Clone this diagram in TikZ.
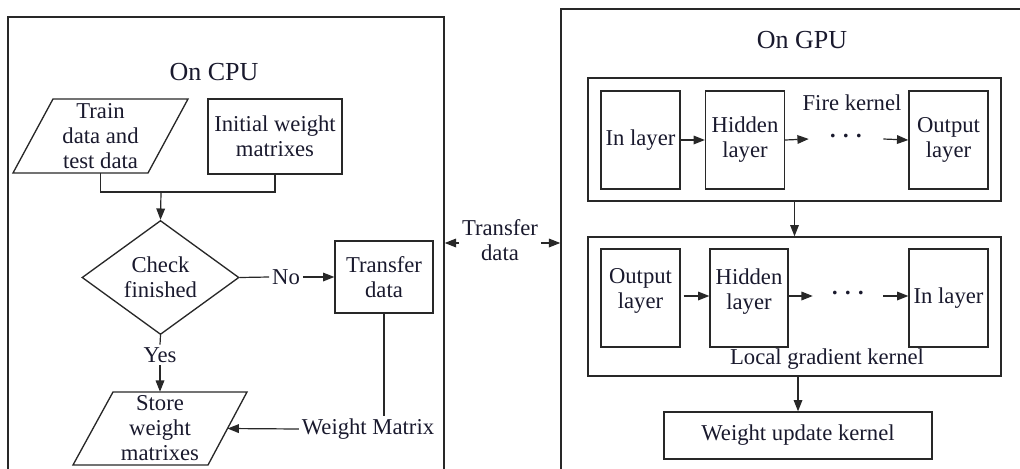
\documentclass[tikz,border=0pt]{standalone}
\usepackage{fontspec}
\setmainfont{Liberation Serif}
\usetikzlibrary{arrows.meta,shapes.geometric}
\definecolor{ln}{RGB}{40,40,40}
\definecolor{tx}{RGB}{25,25,45}
\newcommand{\bodyfont}{\fontsize{17}{18.8}\selectfont}
\newcommand{\titlefont}{\fontsize{19.5}{22}\selectfont}
\newcommand{\threedots}{\textbf{\textperiodcentered}\hspace{4.1pt}\textbf{\textperiodcentered}\hspace{4.1pt}\textbf{\textperiodcentered}}
\tikzset{
 shapeline/.style={draw=ln, line width=1pt},
 box/.style={draw=ln, line width=1pt, rectangle, inner sep=0pt, align=center, text=tx, font=\bodyfont},
 frame/.style={draw=ln, line width=1.1pt, rectangle, inner sep=0pt},
 lbl/.style={inner sep=2pt, align=center, text=tx, font=\bodyfont},
 ttl/.style={inner sep=0pt, text=tx, font=\titlefont},
 conn/.style={draw=ln, line width=0.9pt},
 arr/.style={conn, -{Triangle[length=8.5pt,width=6.5pt]}},
 layerbox/.style={box, minimum width=59.25pt, minimum height=73.5pt},
 kernelbox/.style={box, minimum width=309.75pt},
 dotsnode/.style={inner sep=0pt, text=tx, font=\bodyfont},
}
\begin{document}
\begin{tikzpicture}[x=0.75pt,y=-0.75pt]
\useasboundingbox (0,0) rectangle (1020,468);
\clip (0,0) rectangle (1020,468);

% frames
\node[frame, minimum width=327pt, minimum height=377.25pt] (cpu) at (226,268.5) {};
\node[frame, minimum width=404.25pt, minimum height=383.25pt] (gpu) at (830.5,264.5) {};
\node[ttl] (cputitle) at (214,72) {On CPU};
\node[ttl] (gputitle) at (802,40) {On GPU};

% CPU side
\draw[shapeline] (53,99) -- (188,99) -- (148,173) -- (13,173) -- cycle;
\node[lbl, inner sep=0pt, minimum height=55.5pt] (train) at (100.5,136) {Train\\data and\\test data};
\node[box, minimum width=100.5pt, minimum height=56.25pt] (init) at (275,136.5) {Initial weight\\matrixes};
\node[box, diamond, minimum width=117.75pt, minimum height=63.75pt] (check) at (160.5,277.5) {Check\\finished};
\node[box, minimum width=73.5pt, minimum height=54pt] (transfer) at (384,277) {Transfer\\data};
\draw[shapeline] (113,392) -- (247,392) -- (208,465) -- (73,465) -- cycle;
\node[lbl, inner sep=0pt, minimum height=54.75pt] (store) at (160,428.5) {Store\\weight\\matrixes};
\coordinate (storeR) at (227.5,428.5);
\coordinate (join) at (161,192);

\node[lbl] (no) at (286,277) {No};
\node[lbl] (yes) at (160,355) {Yes};
\node[lbl] (wm) at (368,429) {Weight Matrix};

\draw[conn] (train.south) |- (join) -| (init.south);
\draw[arr] (join) -- (check.north);
\draw[conn] (check.east) -- (no.west);
\draw[arr] (no.east) -- (transfer.west);
\draw[conn] (check.south) -- (yes.north);
\draw[arr] (yes.south) -- (store.north);
\draw[conn] (transfer.south) -- (transfer.south |- wm.north);
\draw[arr] (wm.west) -- (storeR);

% between
\node[lbl, inner sep=2pt] (tr) at (500,240) {Transfer\\data};
\draw[arr] ([yshift=-2.25pt]tr.west) -- ([yshift=-2.25pt]tr.west -| cpu.east);
\draw[arr] ([yshift=-2.25pt]tr.east) -- ([yshift=-2.25pt]tr.east -| gpu.west);

% GPU side: fire kernel
\node[kernelbox, minimum height=92.25pt] (fire) at (794.5,139.5) {};
\node[layerbox] (inA) at (640.5,140) {In layer};
\node[layerbox] (hidA) at (745,140) {Hidden\\layer};
\node[layerbox] (outA) at (948.5,140) {Output\\layer};
\node[dotsnode, minimum width=55.5pt] (dA) at (846,139) {\threedots};
\node[lbl] (firelbl) at (852,103) {Fire kernel};
\draw[arr] (inA) -- (hidA);
\draw[arr] (hidA.east) -- (dA.west);
\draw[arr] (dA.east) -- (outA.west);

% local gradient kernel
\node[kernelbox, minimum height=104.25pt] (lg) at (794.5,306.5) {};
\node[layerbox, text depth=14pt] (outB) at (640.5,298) {Output\\layer};
\node[layerbox, minimum width=58.5pt, text depth=14pt] (hidB) at (749,298) {Hidden\\layer};
\node[layerbox] (inB) at (948.5,298) {In layer};
\node[dotsnode, minimum width=52.5pt] (dB) at (848,296) {\threedots};
\node[lbl] (lglbl) at (827,359) {Local gradient kernel};
\draw[arr, shorten <=2.25pt] (outB.east |- dB) -- (hidB.west |- dB);
\draw[arr] (hidB.east |- dB) -- (dB.west);
\draw[arr] (dB.east) -- (inB.west |- dB);

\draw[arr] (fire.south) -- (lg.north);

\node[box, minimum width=201pt, minimum height=35.25pt] (wu) at (798,435.5) {Weight update kernel};
\draw[arr] (lg.south -| wu.north) -- (wu.north);
\end{tikzpicture}
\end{document}
